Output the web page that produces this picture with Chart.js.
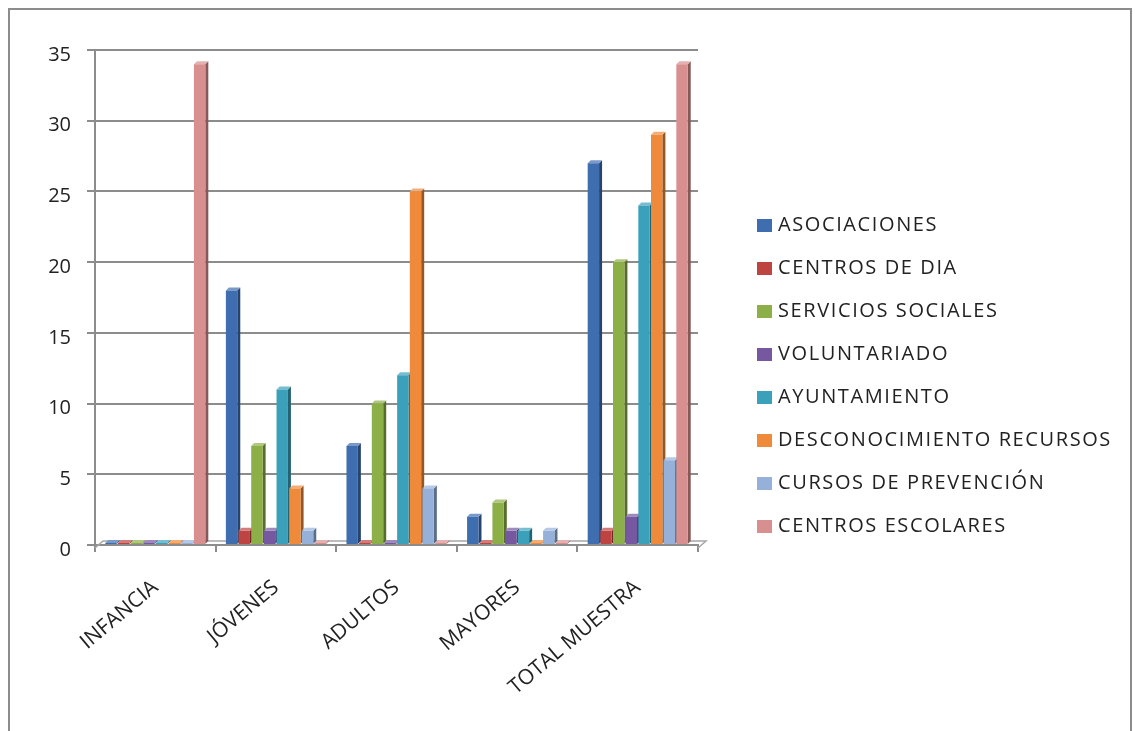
<!DOCTYPE html>
<html>
<head>
<meta charset="utf-8">
<script src="https://cdn.jsdelivr.net/npm/chart.js"></script>
<style>
  body { margin: 0; background: #fff; }
  #marco {
    position: absolute; left: 8px; top: 8px;
    width: 1124px; height: 740px;
    border: 2px solid #8c8c8c; box-sizing: border-box;
  }
  #grafico { position: absolute; left: 0; top: 0; }
  #leyenda {
    position: absolute; left: 747px; top: 192px;
    margin: 0; padding: 0; list-style: none;
    font-family: 'Open Sans', sans-serif; font-size: 20px;
    letter-spacing: 1.6px; color: #222;
  }
  #leyenda li { height: 43px; line-height: 43px; white-space: nowrap; }
  #leyenda span.caja {
    display: inline-block; width: 15px; height: 13px;
    margin-right: 6px; vertical-align: -1px;
  }
</style>
</head>
<body>
<div id="marco">
  <canvas id="grafico" width="1120" height="736"></canvas>
  <ul id="leyenda"></ul>
</div>
<script>
// Categorías y series
const categorias = ['INFANCIA', 'JÓVENES', 'ADULTOS', 'MAYORES', 'TOTAL MUESTRA'];

const asociaciones    = [0, 18, 7, 2, 27];
const centrosDia      = [0, 1, 0, 0, 1];
const serviciosSoc    = [0, 7, 10, 3, 20];
const voluntariado    = [0, 1, 0, 1, 2];
const ayuntamiento    = [0, 11, 12, 1, 24];
const desconocimiento = [0, 4, 25, 0, 29];
const cursosPrev      = [0, 1, 4, 1, 6];
const centrosEsc      = [34, 0, 0, 0, 34];

const ticksY = [0, 5, 10, 15, 20, 25, 30, 35];

const series = [
    { nombre: 'ASOCIACIONES', datos: asociaciones, color: '#3f6eb0' },
    { nombre: 'CENTROS DE DIA', datos: centrosDia, color: '#be4441' },
    { nombre: 'SERVICIOS SOCIALES', datos: serviciosSoc, color: '#8daf48' },
    { nombre: 'VOLUNTARIADO', datos: voluntariado, color: '#7658a0' },
    { nombre: 'AYUNTAMIENTO', datos: ayuntamiento, color: '#3ba0ba' },
    { nombre: 'DESCONOCIMIENTO RECURSOS', datos: desconocimiento, color: '#ee8a3a' },
    { nombre: 'CURSOS DE PREVENCIÓN', datos: cursosPrev, color: '#95b1da' },
    { nombre: 'CENTROS ESCOLARES', datos: centrosEsc, color: '#d88f8f' }
];

// oscurecer / aclarar un color hex
function tono(hex, f) {
    const n = parseInt(hex.slice(1), 16);
    let r = (n >> 16) & 255, g = (n >> 8) & 255, b = n & 255;
    if (f < 1) { r *= f; g *= f; b *= f; }
    else { r += (255 - r) * (f - 1); g += (255 - g) * (f - 1); b += (255 - b) * (f - 1); }
    return 'rgb(' + Math.round(r) + ',' + Math.round(g) + ',' + Math.round(b) + ')';
}

// efecto 3D: caras laterales y superiores dibujadas antes de las barras
const efecto3D = {
    id: 'efecto3D',
    beforeDatasetsDraw(chart) {
        const ctx = chart.ctx;
        const d = 3;
        const area = chart.chartArea;
        // suelo
        ctx.save();
        ctx.strokeStyle = '#a6a6a6';
        ctx.lineWidth = 1.5;
        ctx.beginPath();
        ctx.moveTo(area.left, area.bottom + 3);
        ctx.lineTo(area.left + 8, area.bottom - 4);
        ctx.lineTo(area.right + 8, area.bottom - 4);
        ctx.lineTo(area.right, area.bottom + 3);
        ctx.stroke();
        ctx.restore();
        chart.data.datasets.forEach((ds, i) => {
            const meta = chart.getDatasetMeta(i);
            meta.data.forEach(bar => {
                const w = bar.width / 2;
                const x = bar.x, y = bar.y, base = bar.base;
                ctx.save();
                ctx.fillStyle = tono(ds.backgroundColor, 0.62);
                ctx.beginPath();
                ctx.moveTo(x + w, y);
                ctx.lineTo(x + w + d, y - d);
                ctx.lineTo(x + w + d, base - d);
                ctx.lineTo(x + w, base);
                ctx.closePath();
                ctx.fill();
                ctx.fillStyle = tono(ds.backgroundColor, 1.3);
                ctx.beginPath();
                ctx.moveTo(x - w, y);
                ctx.lineTo(x - w + d, y - d);
                ctx.lineTo(x + w + d, y - d);
                ctx.lineTo(x + w, y);
                ctx.closePath();
                ctx.fill();
                ctx.restore();
            });
        });
    }
};

// leyenda en HTML a partir de las series
const ul = document.getElementById('leyenda');
series.forEach(s => {
    const li = document.createElement('li');
    const caja = document.createElement('span');
    caja.className = 'caja';
    caja.style.background = s.color;
    li.appendChild(caja);
    li.appendChild(document.createTextNode(s.nombre));
    ul.appendChild(li);
});

const ctx = document.getElementById('grafico').getContext('2d');
new Chart(ctx, {
    type: 'bar',
    data: {
        labels: categorias,
        datasets: series.map(s => ({
            label: s.nombre,
            data: s.datos,
            backgroundColor: s.color,
            borderWidth: 0,
            minBarLength: 2,
            barPercentage: 0.9,
            categoryPercentage: 0.84
        }))
    },
    options: {
        responsive: false,
        animation: false,
        layout: { padding: { left: 0, top: 40, right: 432, bottom: 6 } },
        plugins: {
            tooltip: { enabled: false },
            legend: { display: false }
        },
        scales: {
            x: {
                afterFit: axis => { axis.height = 195; },
                grid: {
                    display: true,
                    drawOnChartArea: false,
                    offset: true,
                    tickLength: 7,
                    color: '#8c8c8c',
                    lineWidth: 2
                },
                border: { color: '#8c8c8c', width: 2 },
                ticks: {
                    color: '#222',
                    font: { family: 'Open Sans', size: 21 },
                    maxRotation: 40,
                    minRotation: 40,
                    padding: 23
                }
            },
            y: {
                min: 0,
                max: 35,
                afterFit: axis => { axis.width = 85; },
                afterBuildTicks: axis => { axis.ticks = ticksY.map(v => ({ value: v })); },
                grid: { color: '#8c8c8c', lineWidth: 2, tickLength: 8 },
                border: { color: '#8c8c8c', width: 2 },
                ticks: {
                    color: '#222',
                    font: { family: 'Open Sans', size: 20 },
                    padding: 16,
                    labelOffset: 5
                }
            }
        }
    },
    plugins: [efecto3D]
});
</script>
</body>
</html>
